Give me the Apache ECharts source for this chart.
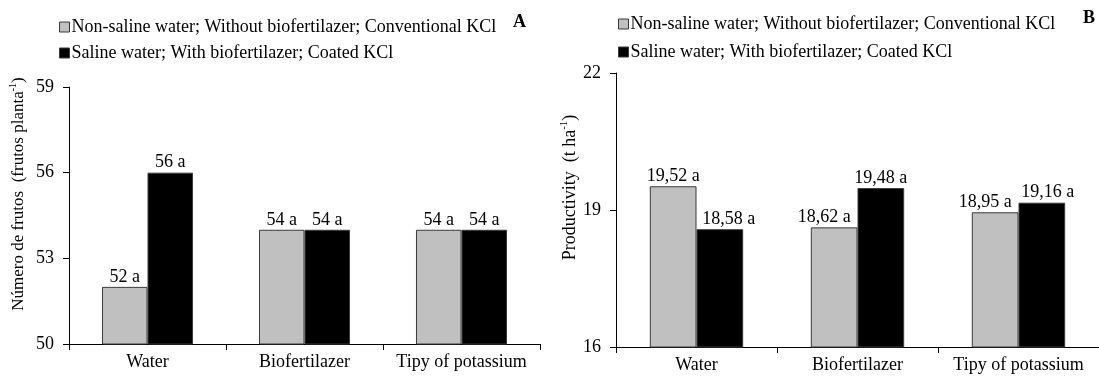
<!DOCTYPE html>
<html><head><meta charset="utf-8">
<script src="https://cdn.jsdelivr.net/npm/echarts@6/dist/echarts.min.js"></script>
<style>html,body{margin:0;padding:0;background:#fff}#c{width:1099px;height:376px}</style>
</head><body><div id="c"></div>
<script>
const categories = ['Water', 'Biofertilazer', 'Tipy of potassium'];
const seriesNames = ['Non-saline water; Without biofertilazer; Conventional KCl', 'Saline water; With biofertilazer; Coated KCl'];
const fruitsNonSaline = [52, 54, 54];
const fruitsSaline = [56, 54, 54];
const prodNonSaline = [19.52, 18.62, 18.95];
const prodSaline = [18.58, 19.48, 19.16];
const fruitTicks = [50, 53, 56, 59];
const prodTicks = [16, 19, 22];
// horizontal nudges of value labels in panel B (labels pushed apart as in the original)
const prodLabelShiftNonSaline = [0, -10, -10];
const prodLabelShiftSaline = [9, 0, 6];

const FONT = '"Liberation Serif", "Times New Roman", serif';
const GRAY = '#c0c0c0';
const FS = 18;
const txt = {fontFamily: FONT, fontSize: FS, color: '#000'};

function yAxis(idx, ticks, name, gap, shift, fs) {
  return {
    type: 'value', gridIndex: idx,
    min: ticks[0], max: ticks[ticks.length - 1], interval: ticks[1] - ticks[0],
    splitLine: {show: false},
    axisLine: {show: true, lineStyle: {color: '#000', width: 1}},
    axisTick: {show: true, length: 6, lineStyle: {color: '#000'}},
    axisLabel: Object.assign({margin: 15}, txt),
    name: name, nameLocation: 'middle', nameRotate: 90, nameGap: gap,
    nameTextStyle: Object.assign({}, txt, {padding: [0, 0, 0, shift], rich: {
      n: {fontFamily: FONT, fontSize: fs, color: '#000', verticalAlign: 'bottom', lineHeight: fs + 2},
      sup: {fontFamily: FONT, fontSize: Math.round(fs * 0.6), color: '#000', verticalAlign: 'top', lineHeight: fs + 2}
    }})
  };
}
function xAxis(idx) {
  return {
    type: 'category', gridIndex: idx, data: categories,
    axisLine: {lineStyle: {color: '#000', width: 1}},
    axisTick: {show: true, length: 6, alignWithLabel: false, lineStyle: {color: '#000'}},
    axisLabel: Object.assign({margin: 9, interval: 0}, txt)
  };
}
function bar(name, data, xi, color, fmt, shifts) {
  const items = data.map((v, i) => shifts ? {value: v, label: {offset: [shifts[i], 0]}} : v);
  return {
    type: 'bar', name: name, xAxisIndex: xi, yAxisIndex: xi, data: items,
    barGap: '0%', barCategoryGap: '42%',
    itemStyle: {color: color, borderColor: '#3a3a3a', borderWidth: 1},
    label: Object.assign({show: true, position: 'top', distance: 1, formatter: fmt}, txt)
  };
}
const intFmt = p => p.value + ' a';
const decFmt = p => p.value.toFixed(2).replace('.', ',') + ' a';

function legend(left, top, gap) {
  return {
    orient: 'vertical', left: left, top: top, itemGap: gap,
    itemWidth: 10, itemHeight: 10, icon: 'rect',
    textStyle: Object.assign({padding: [0, 0, 0, -3]}, txt),
    data: seriesNames.map((n, i) => ({name: n, itemStyle: {color: i ? '#000' : GRAY, borderColor: '#3a3a3a', borderWidth: 1}}))
  };
}

const chart = echarts.init(document.getElementById('c'), null, {renderer: 'canvas'});
chart.setOption({
  animation: false,
  backgroundColor: '#fff',
  title: [
    {text: 'A', left: 513, top: 13, padding: 0, textStyle: {fontFamily: FONT, fontSize: 18, fontWeight: 'bold', color: '#000'}},
    {text: 'B', left: 1083, top: 9, padding: 0, textStyle: {fontFamily: FONT, fontSize: 18, fontWeight: 'bold', color: '#000'}}
  ],
  legend: [legend(54, 13, 8), legend(613, 10, 10)],
  grid: [
    {left: 69, right: 1099 - 540, top: 87, bottom: 32},
    {left: 616, right: 0, top: 73, bottom: 29}
  ],
  xAxis: [xAxis(0), xAxis(1)],
  yAxis: [
    yAxis(0, fruitTicks, '{n|Número de frutos  (frutos planta}{sup|-1}{n|)}', 42, 43, 17),
    yAxis(1, prodTicks, '{n|Productivity  (t ha}{sup|-1}{n|)}', 34, 45, 18)
  ],
  series: [
    bar(seriesNames[0], fruitsNonSaline, 0, GRAY, intFmt),
    bar(seriesNames[1], fruitsSaline, 0, '#000', intFmt),
    bar(seriesNames[0], prodNonSaline, 1, GRAY, decFmt, prodLabelShiftNonSaline),
    bar(seriesNames[1], prodSaline, 1, '#000', decFmt, prodLabelShiftSaline)
  ]
});
</script></body></html>
